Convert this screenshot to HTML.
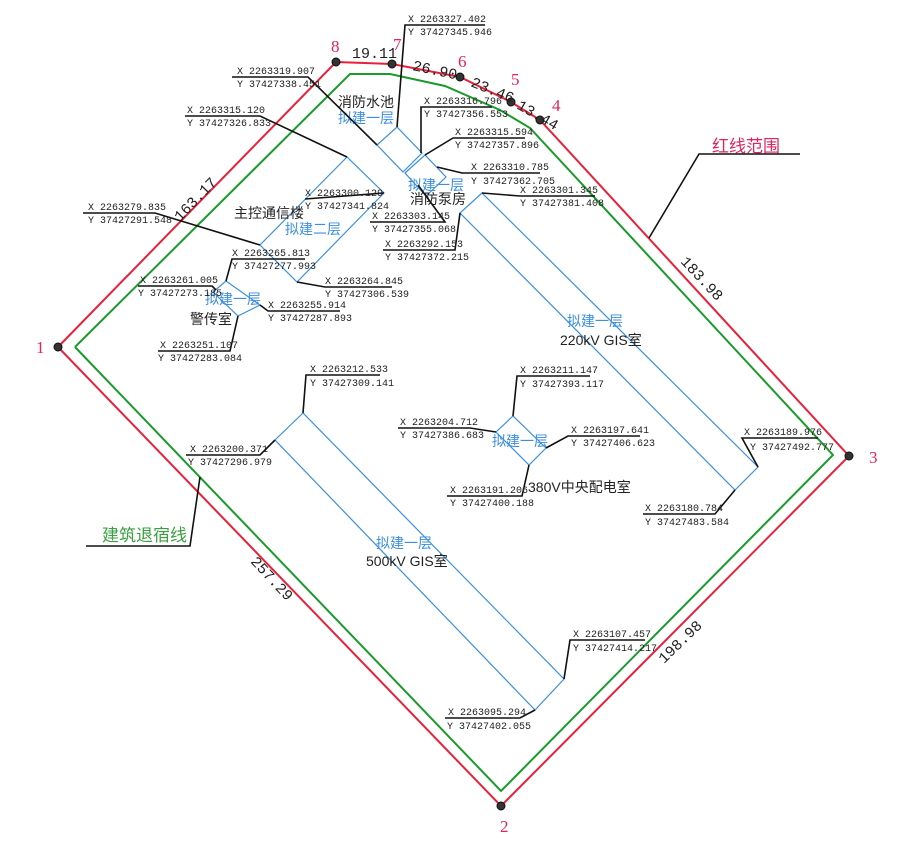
<!DOCTYPE html>
<html><head><meta charset="utf-8"><style>
html,body{margin:0;padding:0;background:#fff;}
svg{display:block;}
.c{font-family:"Liberation Mono","DejaVu Sans Mono",monospace;font-size:10px;fill:#222;}
.z{font-family:"Liberation Sans","Noto Sans CJK SC",sans-serif;font-size:14px;fill:#222;}
.b{font-family:"Liberation Sans","Noto Sans CJK SC",sans-serif;font-size:14px;fill:#3b8fe0;}
.d{font-family:"Liberation Mono","DejaVu Sans Mono",monospace;font-size:15px;fill:#222;}
.n{font-family:"Liberation Serif",serif;font-size:17px;fill:#e0245e;}
</style></head><body>
<svg width="923" height="846" viewBox="0 0 923 846" xmlns="http://www.w3.org/2000/svg">
<rect width="923" height="846" fill="#fff"/>
<!-- red boundary -->
<polyline points="58,347 336,62 392,64 460,77 511,102 540,120 849,456 501,806 58,347" fill="none" stroke="#e8213a" stroke-width="2"/>
<!-- green setback -->
<polyline points="75,347 350,74 390,74 445,86 500,110 530,128 833,455 501,791 75,347" fill="none" stroke="#1a9a2a" stroke-width="2"/>
<g fill="#333" stroke="#111" stroke-width="1">
<circle cx="58" cy="347" r="4"/><circle cx="336" cy="62" r="4"/><circle cx="392" cy="64" r="4"/><circle cx="460" cy="77" r="4"/><circle cx="511" cy="102" r="4"/><circle cx="540" cy="120" r="4"/><circle cx="849" cy="456" r="4"/><circle cx="501" cy="806" r="4"/>
</g>
<text class="n" x="36" y="353">1</text><text class="n" x="331" y="52">8</text><text class="n" x="393" y="50">7</text><text class="n" x="458" y="67">6</text><text class="n" x="511" y="85">5</text><text class="n" x="552" y="111">4</text><text class="n" x="869" y="463">3</text><text class="n" x="500" y="832">2</text>
<!-- dims -->
<text class="d" x="352" y="58" font-size="13">19.11</text>
<text class="d" transform="translate(412,70) rotate(12)" font-size="13">26.90</text>
<text class="d" transform="translate(470,86) rotate(22)" font-size="13">23.46</text>
<text class="d" transform="translate(516,108) rotate(30)" font-size="13">13.44</text>
<text class="d" transform="translate(180,222) rotate(-46)">163.17</text>
<text class="d" transform="translate(680,262) rotate(47)">183.98</text>
<text class="d" transform="translate(250,562) rotate(47)">257.29</text>
<text class="d" transform="translate(664,664) rotate(-44)">198.98</text>
<!-- buildings -->
<g fill="none" stroke="#3b8fe0" stroke-width="1.2">
<polygon points="482,193 460,213 735,490 758,467"/>
<polygon points="303,413 275,440 535,710 564,679"/>
<polygon points="347,157 260,245 297,282 384,193"/>
<polygon points="226,281 213,292 238,316 260,305 "/>
<polygon points="377,145 397,127 422,153 403,172"/>
<polygon points="405,173 425,155 446,177 426,196"/>
<polygon points="513,416 496,432 529,465 546,448"/>
</g>
<!-- building labels -->
<text class="z" x="338" y="107">消防水池</text><text class="b" x="338" y="123">拟建一层</text>
<text class="b" x="408" y="190">拟建一层</text><text class="z" x="410" y="204">消防泵房</text>
<text class="z" x="234" y="218">主控通信楼</text><text class="b" x="285" y="234">拟建二层</text>
<text class="b" x="205" y="304">拟建一层</text><text class="z" x="190" y="324">警传室</text>
<text class="b" x="567" y="326">拟建一层</text><text class="z" x="560" y="345">220kV GIS室</text>
<text class="b" x="492" y="446">拟建一层</text><text class="z" x="528" y="492">380V中央配电室</text>
<text class="b" x="376" y="548">拟建一层</text><text class="z" x="366" y="566">500kV GIS室</text>
<text x="712" y="152" font-family="Liberation Sans,Noto Sans CJK SC,sans-serif" font-size="17" fill="#e0245e">红线范围</text>
<text x="102" y="541" font-family="Liberation Sans,Noto Sans CJK SC,sans-serif" font-size="17" fill="#3aa040">建筑退宿线</text>
<!-- leaders -->
<g fill="none" stroke="#111" stroke-width="1.6">
<polyline points="649,238 699,154 800,154"/>
<polyline points="200,477 190,546 86,546"/>
<polyline points="485,25 405,25 397,127"/>
<polyline points="232,77 308,77 377,145"/>
<polyline points="185,116 260,116 347,157"/>
<polyline points="492,107 421,107 421,153"/>
<polyline points="525,138 453,138 425,155"/>
<polyline points="540,173 462,173 437,167"/>
<polyline points="595,196 520,196 482,193"/>
<polyline points="305,199 384,193"/>
<polyline points="370,222 445,222 418,185"/>
<polyline points="383,250 455,250 460,213"/>
<polyline points="83,213 155,213 260,245"/>
<polyline points="305,259 232,259 226,281"/>
<polyline points="297,282 325,287 392,287"/>
<polyline points="138,286 212,286 216,290"/>
<polyline points="260,305 268,311 340,311"/>
<polyline points="158,351 230,351 238,316"/>
<polyline points="380,375 306,375 303,413"/>
<polyline points="186,455 260,455 275,440"/>
<polyline points="590,376 517,376 513,416"/>
<polyline points="398,428 470,428 496,432"/>
<polyline points="640,436 568,436 546,448"/>
<polyline points="447,496 522,496 529,465"/>
<polyline points="818,438 742,438 758,467"/>
<polyline points="643,514 715,514 735,490"/>
<polyline points="645,640 570,640 564,679"/>
<polyline points="445,718 520,718 535,710"/>
</g>
<!-- coordinates -->
<g class="c">
<text x="408" y="22">X 2263327.402</text><text x="408" y="35">Y 37427345.946</text>
<text x="237" y="74">X 2263319.907</text><text x="237" y="87">Y 37427338.451</text>
<text x="187" y="113">X 2263315.120</text><text x="187" y="126">Y 37427326.833</text>
<text x="424" y="104">X 2263316.796</text><text x="424" y="117">Y 37427356.553</text>
<text x="455" y="135">X 2263315.594</text><text x="455" y="148">Y 37427357.896</text>
<text x="471" y="170">X 2263310.785</text><text x="471" y="184">Y 37427362.705</text>
<text x="520" y="193">X 2263301.345</text><text x="520" y="206">Y 37427381.408</text>
<text x="305" y="196">X 2263300.129</text><text x="305" y="209">Y 37427341.824</text>
<text x="372" y="219">X 2263303.145</text><text x="372" y="232">Y 37427355.068</text>
<text x="385" y="247">X 2263292.153</text><text x="385" y="260">Y 37427372.215</text>
<text x="88" y="210">X 2263279.835</text><text x="88" y="223">Y 37427291.548</text>
<text x="232" y="256">X 2263265.813</text><text x="232" y="269">Y 37427277.993</text>
<text x="325" y="284">X 2263264.845</text><text x="325" y="297">Y 37427306.539</text>
<text x="140" y="283">X 2263261.005</text><text x="138" y="296">Y 37427273.185</text>
<text x="268" y="308">X 2263255.914</text><text x="268" y="321">Y 37427287.893</text>
<text x="160" y="348">X 2263251.107</text><text x="158" y="361">Y 37427283.084</text>
<text x="310" y="372">X 2263212.533</text><text x="310" y="386">Y 37427309.141</text>
<text x="190" y="452">X 2263200.371</text><text x="188" y="465">Y 37427296.979</text>
<text x="520" y="373">X 2263211.147</text><text x="520" y="387">Y 37427393.117</text>
<text x="400" y="425">X 2263204.712</text><text x="400" y="438">Y 37427386.683</text>
<text x="571" y="433">X 2263197.641</text><text x="571" y="446">Y 37427406.623</text>
<text x="450" y="493">X 2263191.206</text><text x="450" y="506">Y 37427400.188</text>
<text x="744" y="435">X 2263189.976</text><text x="750" y="450">Y 37427492.777</text>
<text x="645" y="511">X 2263180.784</text><text x="645" y="525">Y 37427483.584</text>
<text x="573" y="637">X 2263107.457</text><text x="573" y="651">Y 37427414.217</text>
<text x="448" y="715">X 2263095.294</text><text x="447" y="729">Y 37427402.055</text>
</g>
</svg>
</body></html>
